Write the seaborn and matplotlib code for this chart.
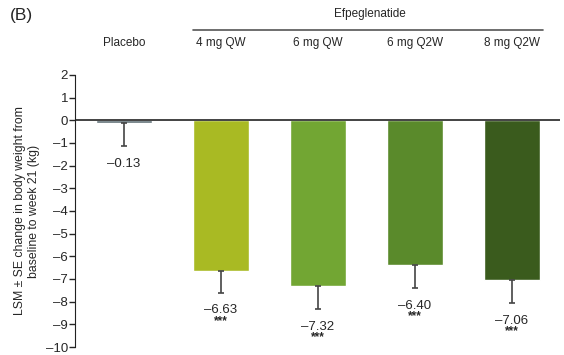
import numpy as np
import matplotlib
matplotlib.use('Agg')
import matplotlib.pyplot as plt
import pandas as pd
import seaborn as sns

groups = ['Placebo', '4 mg QW', '6 mg QW', '6 mg Q2W', '8 mg Q2W']
lsm = [-0.13, -6.63, -7.32, -6.40, -7.06]
se = [1.0, 0.97, 1.0, 1.0, 1.0]
labels = ['–0.13', '–6.63', '–7.32', '–6.40', '–7.06']
stars = ['', '***', '***', '***', '***']
colors = ['#5f6f76', '#a9ba23', '#72a633', '#5a8a2b', '#3a5b1d']

sns.set_style('white')
plt.rcParams['font.family'] = ['Liberation Sans', 'DejaVu Sans']

df = pd.DataFrame({'group': groups, 'lsm': lsm})

fig = plt.figure(figsize=(5.64, 3.55), dpi=100)
ax = fig.add_axes([0.133, 0.0225, 0.86, 0.7665])

sns.barplot(data=df, x='group', y='lsm', hue='group', palette=colors,
            width=0.57, legend=False, ax=ax, saturation=1)

x = np.arange(len(groups))
# one-sided (downward) error bars
ax.errorbar(x, lsm, yerr=[se, [0] * len(se)], fmt='none', ecolor='#444444',
            elinewidth=1.2, capsize=2.5, capthick=1.2)

for i in range(len(groups)):
    low = lsm[i] - se[i]
    ax.text(x[i], low - 0.78, labels[i], ha='center', va='center', fontsize=9.5)
    if stars[i]:
        ax.text(x[i], low - 1.25, stars[i], ha='center', va='center',
                fontsize=8.5, fontweight='bold')

ax.axhline(0, color='#222222', lw=1.2, zorder=5)

ax.set_xlim(-0.505, 4.495)
ax.set_ylim(-10, 2)
ax.set_yticks(range(-10, 3))
ax.set_yticklabels([str(v).replace('-', '–') for v in range(-10, 3)])
ax.tick_params(axis='y', length=4, width=1, direction='out', left=True,
               labelsize=9.5, pad=1)
ax.set_xticks([])
ax.set_xlabel('')
for s in ['top', 'right', 'bottom']:
    ax.spines[s].set_visible(False)
ax.spines['left'].set_color('#222222')
ax.set_ylabel('LSM ± SE change in body weight from\nbaseline to week 21 (kg)',
              fontsize=8.8, labelpad=4)

# column headers above the plot
for i in range(len(groups)):
    ax.text(x[i], 3.41, groups[i], ha='center', va='center', fontsize=8.5,
            clip_on=False)
ax.plot([0.71, 4.32], [3.98, 3.98], color='#555555', lw=1.2, clip_on=False)
ax.text(2.53, 4.69, 'Efpeglenatide', ha='center', va='center', fontsize=8.5,
        clip_on=False)

fig.text(0.018, 0.955, '(B)', fontsize=12.5, va='center')

fig.savefig('out.png', dpi=100)
